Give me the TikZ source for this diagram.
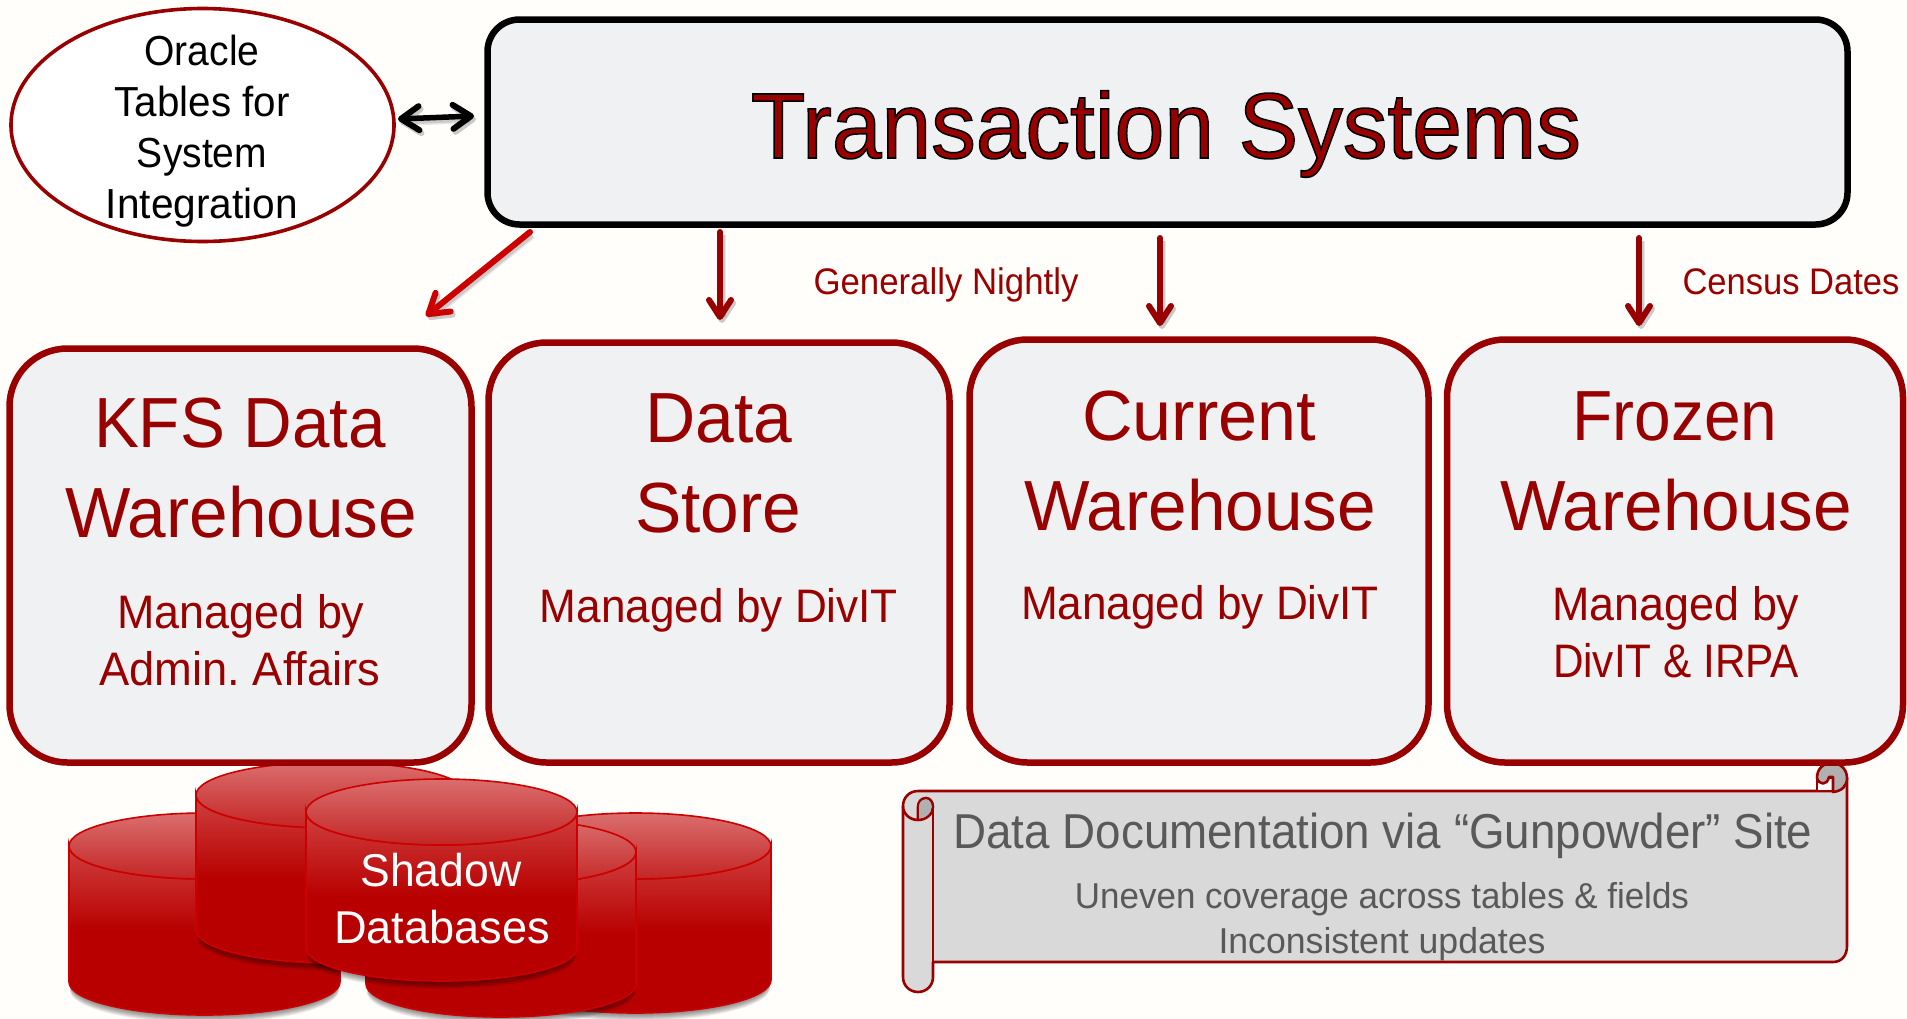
\documentclass[tikz,border=0pt]{standalone}
\usepackage{fontspec}
\usepackage{graphicx}
\setmainfont{Liberation Sans}
\usetikzlibrary{arrows.meta,shapes.geometric}
\definecolor{pagebg}{HTML}{FFFEFB}
\definecolor{dkred}{HTML}{990000}
\definecolor{boxfill}{HTML}{F0F1F3}
\definecolor{brightred}{HTML}{CC0000}
\definecolor{scrollfill}{HTML}{D9D9D9}
\definecolor{scrolldark}{HTML}{B0B0B0}
\definecolor{greytext}{HTML}{595959}
\definecolor{cyltop}{HTML}{D04040}
\definecolor{cylmid}{HTML}{B80000}
\definecolor{cyllight}{HTML}{DB6E6E}
\definecolor{cylend}{HTML}{C42525}
\newcommand{\fitw}[3]{\fontsize{#2}{#2}\selectfont\resizebox{#1pt}{\height}{#3}}
\newcommand{\cyl}[5]{% left, right, topcentre y, ry, bottom y
  \foreach \sh in {1,2,...,8}{
    \fill[black,opacity=0.07] (#1+1,#5-#4+\sh) arc[start angle=180,end angle=360,x radius={(#2-#1)/2-1},y radius=-#4] -- cycle;
  }
  \path[top color=cyltop,bottom color=cylmid,middle color=cylmid,draw=brightred,line width=1.6pt]
    (#1,#3) -- (#1,#5-#4) arc[start angle=180,end angle=360,x radius={(#2-#1)/2},y radius=-#4]
    -- (#2,#3) arc[start angle=0,end angle=180,x radius={(#2-#1)/2},y radius=#4] -- cycle;
  \path[top color=cyllight,bottom color=cylend,draw=brightred,line width=1.6pt]
    ({(#1+#2)/2},#3) ellipse[x radius={(#2-#1)/2},y radius=#4];
}
\tikzset{
  x=1pt,y=-1pt,
  bigbox/.style={draw=dkred,fill=boxfill,line width=6.5pt,rounded corners=58pt,inner sep=0pt,outer sep=0pt},
  mainbox/.style={draw=black,fill=boxfill,line width=6.5pt,rounded corners=32pt,inner sep=0pt,outer sep=0pt},
  oval/.style={draw=dkred,fill=white,line width=3.6pt,ellipse,inner sep=0pt,outer sep=0pt},
  lab/.style={anchor=base,inner sep=0pt,outer sep=0pt,text=dkred},
  blk/.style={anchor=base,inner sep=0pt,outer sep=0pt,text=black},
  gry/.style={anchor=base,inner sep=0pt,outer sep=0pt,text=greytext},
  whi/.style={anchor=base,inner sep=0pt,outer sep=0pt,text=white},
  shad/.style={preaction={draw=black,draw opacity=.09,line width=8pt,transform canvas={shift={(2pt,-3pt)}}},
               preaction={draw=black,draw opacity=.12,line width=5pt,transform canvas={shift={(2pt,-3pt)}}}},
  flow/.style={draw=dkred,line width=6pt,line cap=round,-{Straight Barb[round,length=17pt,width=22pt,line width=6pt]}},
  flowb/.style={draw=brightred,line width=6pt,line cap=round,-{Straight Barb[round,length=19pt,width=24pt,line width=6pt]}},
  both/.style={draw=black,line width=5.5pt,line cap=round,{Straight Barb[round,length=18pt,width=24pt,line width=6pt]}-{Straight Barb[round,length=18pt,width=24pt,line width=6pt]}},
  scrollline/.style={draw=dkred,line width=2.6pt,line join=round},
}
\begin{document}
\begin{tikzpicture}
\useasboundingbox (0,0) rectangle (1907,1018);
\fill[pagebg] (0,0) rectangle (1907,1018);

% cylinders
\cyl{500}{771}{846}{33}{1013}
\cyl{69}{340}{846}{33}{1015}
\cyl{366}{636}{852}{33}{1017}
\cyl{196}{468}{795}{33}{963}
\cyl{306}{577}{812}{33}{981}

% scroll
\path[scrollline,fill=scrollfill]
  (933,962) -- (1833,962) .. controls (1842,962) and (1847,955) .. (1847,946)
  -- (1847,778) -- (1833,778) -- (1833,791)
  -- (918,791) .. controls (909,791) and (903,798) .. (903,806)
  -- (903,977) .. controls (903,986) and (910,992) .. (918,992)
  .. controls (926,992) and (933,986) .. (933,977) -- cycle;
\path[scrollline,fill=pagebg]
  (1817,791) -- (1817,778) -- (1833,778) -- (1833,791) -- cycle;
\path[scrollline,fill=scrolldark]
  (1833,792) .. controls (1842,791) and (1847,786) .. (1847,778)
  .. controls (1847,769) and (1840,763) .. (1832,763)
  .. controls (1823,763) and (1817,769) .. (1817,778)
  .. controls (1819,785) and (1827,786) .. (1829,777)
  -- (1833,777) -- cycle;
% left curl
\path[scrollline,fill=scrollfill]
  (903,806) .. controls (903,814) and (910,820) .. (918,820)
  .. controls (926,820) and (933,814) .. (933,807)
  .. controls (933,802) and (930,798) .. (926,798)
  .. controls (921,798) and (918,802) .. (918,807) -- (918,819);
\path[fill=scrolldark]
  (926,799.5) .. controls (922,799.5) and (919,802) .. (919,807) -- (919,818.5)
  .. controls (926,818) and (931.5,813) .. (931.5,807) .. controls (931.5,802) and (929,799.5) .. (926,799.5) -- cycle;
\draw[scrollline] (933,807) -- (933,977);

% boxes
\node[bigbox,minimum width=462pt,minimum height=414pt] (kfs) at (240.5,555.5) {};
\node[bigbox,minimum width=461pt,minimum height=420pt] (store) at (719,552.5) {};
\node[bigbox,minimum width=459pt,minimum height=423pt] (current) at (1199,551) {};
\node[bigbox,minimum width=456pt,minimum height=423pt] (frozen) at (1675,551) {};
\node[mainbox,minimum width=1360pt,minimum height=205pt] (main) at (1167.5,122) {};
\node[oval,minimum width=383pt,minimum height=233pt] (oracle) at (202.5,125) {};

% connectors
\coordinate (arrL) at (398,119);
\coordinate (arrR) at (474,116);
\coordinate (d1a) at (530,232);
\coordinate (d1b) at (426,316);
\coordinate (d2a) at (720,232);
\coordinate (d2b) at (720,320);
\coordinate (d3a) at (1160,238);
\coordinate (d3b) at (1160,326);
\coordinate (d4a) at (1639,238);
\coordinate (d4b) at (1639,326);
\draw[both,shad] (arrL) -- (arrR);
\draw[flowb,shad] (d1a) -- (d1b);
\draw[flow,shad] (d2a) -- (d2b);
\draw[flow,shad] (d3a) -- (d3b);
\draw[flow,shad] (d4a) -- (d4b);

% main title
\node[lab] (title) at (1166,158) {\fitw{830}{93}{\special{pdf:code 2 Tr 1.6 w 0 0 0 RG}Transaction Systems\special{pdf:code 0 Tr}}};

% oval text
\node[blk] (or1) at (202,65) {\fitw{115}{42}{Oracle}};
\node[blk] (or2) at (202,116) {\fitw{175}{42}{Tables for}};
\node[blk] (or3) at (202,167) {\fitw{130}{42}{System}};
\node[blk] (or4) at (202,218) {\fitw{192}{42}{Integration}};

% labels
\node[lab] (nightly) at (946,294) {\fitw{265}{37}{Generally Nightly}};
\node[lab] (census) at (1791,294) {\fitw{217}{37}{Census Dates}};

% box text
\node[lab] (t1) at (240,447.5) {\fitw{292}{71}{KFS Data}};
\node[lab] (t2) at (241,537) {\fitw{352}{71}{Warehouse}};
\node[lab] (t3) at (241,628) {\fitw{247}{47}{Managed by}};
\node[lab] (t4) at (240,685) {\fitw{281}{47}{Admin.\ Affairs}};
\node[lab] (t5) at (719,442.5) {\fitw{147}{71}{Data}};
\node[lab] (t6) at (718,532) {\fitw{166}{71}{Store}};
\node[lab] (t7) at (719,622) {\fitw{358}{47}{Managed by DivIT}};
\node[lab] (t8) at (1199,440.5) {\fitw{234}{71}{Current}};
\node[lab] (t9) at (1200,530) {\fitw{352}{71}{Warehouse}};
\node[lab] (t10) at (1200,619) {\fitw{358}{47}{Managed by DivIT}};
\node[lab] (t11) at (1675,440.5) {\fitw{205}{71}{Frozen}};
\node[lab] (t12) at (1676,530) {\fitw{352}{71}{Warehouse}};
\node[lab] (t13) at (1676,620) {\fitw{247}{47}{Managed by}};
\node[lab] (t14) at (1676,677) {\fitw{246}{47}{DivIT \& IRPA}};

% scroll text
\node[gry] (s1) at (1383,848) {\fitw{859}{49}{Data Documentation via “Gunpowder” Site}};
\node[gry] (s2) at (1382,908) {\fitw{614}{36}{Uneven coverage across tables \& fields}};
\node[gry] (s3) at (1382,953) {\fitw{327}{36}{Inconsistent updates}};

% cylinder text
\node[whi] (c1) at (441,886) {\fitw{161}{46}{Shadow}};
\node[whi] (c2) at (442,943) {\fitw{216}{46}{Databases}};
\end{tikzpicture}
\end{document}
